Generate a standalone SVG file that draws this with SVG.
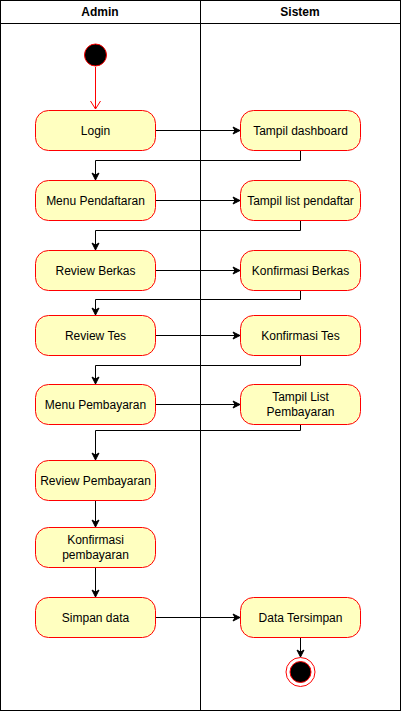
<svg xmlns="http://www.w3.org/2000/svg" width="401" height="712" viewBox="0 0 401 712">
<defs>
<marker id="ah" markerWidth="10" markerHeight="10" refX="8" refY="5" orient="auto" markerUnits="userSpaceOnUse"><path d="M1,1.5 L8,5 L1,8.5 L3,5 Z" fill="#000" stroke="#000" stroke-width="1"/></marker>
<marker id="ahr" markerWidth="12" markerHeight="12" refX="6" refY="11" orient="0" markerUnits="userSpaceOnUse"><path d="M1,3 L6,11 L11,3" fill="none" stroke="#ff0000" stroke-width="1"/></marker>
</defs>
<style>
.act rect{fill:#ffffc0;stroke:#ff0000;stroke-width:1}
.act text{font-family:"Liberation Sans",Arial,sans-serif;font-size:12px;fill:#000;text-anchor:middle}
.hdr{font-family:"Liberation Sans",Arial,sans-serif;font-size:12px;font-weight:bold;text-anchor:middle}
.c{fill:none;stroke:#000;stroke-width:1;marker-end:url(#ah)}
</style>
<rect x="0" y="0" width="401" height="712" fill="#fff"/>
<g id="pool">
<rect x="0.5" y="0.5" width="400" height="710" fill="none" stroke="#000"/>
<line x1="0.5" y1="23.5" x2="400.5" y2="23.5" stroke="#000"/>
<line x1="200.5" y1="0.5" x2="200.5" y2="710.5" stroke="#000"/>
<text class="hdr" x="100" y="16">Admin</text>
<text class="hdr" x="300" y="16">Sistem</text>
</g>
<g id="connectors">
<line x1="95.5" y1="67" x2="95.5" y2="109" stroke="#ff0000" marker-end="url(#ahr)"/>
<path class="c" d="M155,130.5 H240"/>
<path class="c" d="M300.5,150 V160.5 H95.5 V180"/>
<path class="c" d="M155,200.5 H240"/>
<path class="c" d="M300.5,220 V230.5 H95.5 V250"/>
<path class="c" d="M155,270.5 H240"/>
<path class="c" d="M300.5,290 V299.5 H95.5 V315"/>
<path class="c" d="M155,335.5 H240"/>
<path class="c" d="M300.5,355 V365.5 H95.5 V384"/>
<path class="c" d="M155,404.5 H240"/>
<path class="c" d="M300.5,424 V430.5 H95.5 V460"/>
<path class="c" d="M95.5,500 V527" stroke="#555"/>
<path class="c" d="M95.5,567 V597"/>
<path class="c" d="M155,617.5 H240"/>
<path class="c" d="M300.5,637 V657"/>
</g>
<g id="start"><circle cx="95.5" cy="55" r="11" fill="#000" stroke="#ff0000"/></g>
<g id="login" class="act"><rect x="35.5" y="110.5" width="120" height="40" rx="13"/><text x="95.5" y="134.5">Login</text></g>
<g id="tampil-dashboard" class="act"><rect x="240.5" y="110.5" width="120" height="40" rx="13"/><text x="300.5" y="134.5">Tampil dashboard</text></g>
<g id="menu-pendaftaran" class="act"><rect x="35.5" y="180.5" width="120" height="40" rx="13"/><text x="95.5" y="204.5">Menu Pendaftaran</text></g>
<g id="tampil-list-pendaftar" class="act"><rect x="240.5" y="180.5" width="120" height="40" rx="13"/><text x="300.5" y="204.5">Tampil list pendaftar</text></g>
<g id="review-berkas" class="act"><rect x="35.5" y="250.5" width="120" height="40" rx="13"/><text x="95.5" y="274.5">Review Berkas</text></g>
<g id="konfirmasi-berkas" class="act"><rect x="240.5" y="250.5" width="120" height="40" rx="13"/><text x="300.5" y="274.5">Konfirmasi Berkas</text></g>
<g id="review-tes" class="act"><rect x="35.5" y="315.5" width="120" height="40" rx="13"/><text x="95.5" y="339.5">Review Tes</text></g>
<g id="konfirmasi-tes" class="act"><rect x="240.5" y="315.5" width="120" height="40" rx="13"/><text x="300.5" y="339.5">Konfirmasi Tes</text></g>
<g id="menu-pembayaran" class="act"><rect x="35.5" y="384.5" width="120" height="40" rx="13"/><text x="95.5" y="408.5">Menu Pembayaran</text></g>
<g id="tampil-list-pembayaran" class="act"><rect x="240.5" y="384.5" width="120" height="40" rx="13"/><text x="300.5" y="401">Tampil List</text><text x="300.5" y="416">Pembayaran</text></g>
<g id="review-pembayaran" class="act"><rect x="35.5" y="460.5" width="120" height="40" rx="13"/><text x="95.5" y="484.5">Review Pembayaran</text></g>
<g id="konfirmasi-pembayaran" class="act"><rect x="35.5" y="527.5" width="120" height="40" rx="13"/><text x="95.5" y="544">Konfirmasi</text><text x="95.5" y="559">pembayaran</text></g>
<g id="simpan-data" class="act"><rect x="35.5" y="597.5" width="120" height="40" rx="13"/><text x="95.5" y="621.5">Simpan data</text></g>
<g id="data-tersimpan" class="act"><rect x="240.5" y="597.5" width="120" height="40" rx="13"/><text x="300.5" y="621.5">Data Tersimpan</text></g>
<g id="end"><circle cx="300.5" cy="672" r="14.5" fill="#fff" stroke="#ff0000"/><circle cx="300.5" cy="672" r="10.5" fill="#000" stroke="#ff0000"/></g>
</svg>
